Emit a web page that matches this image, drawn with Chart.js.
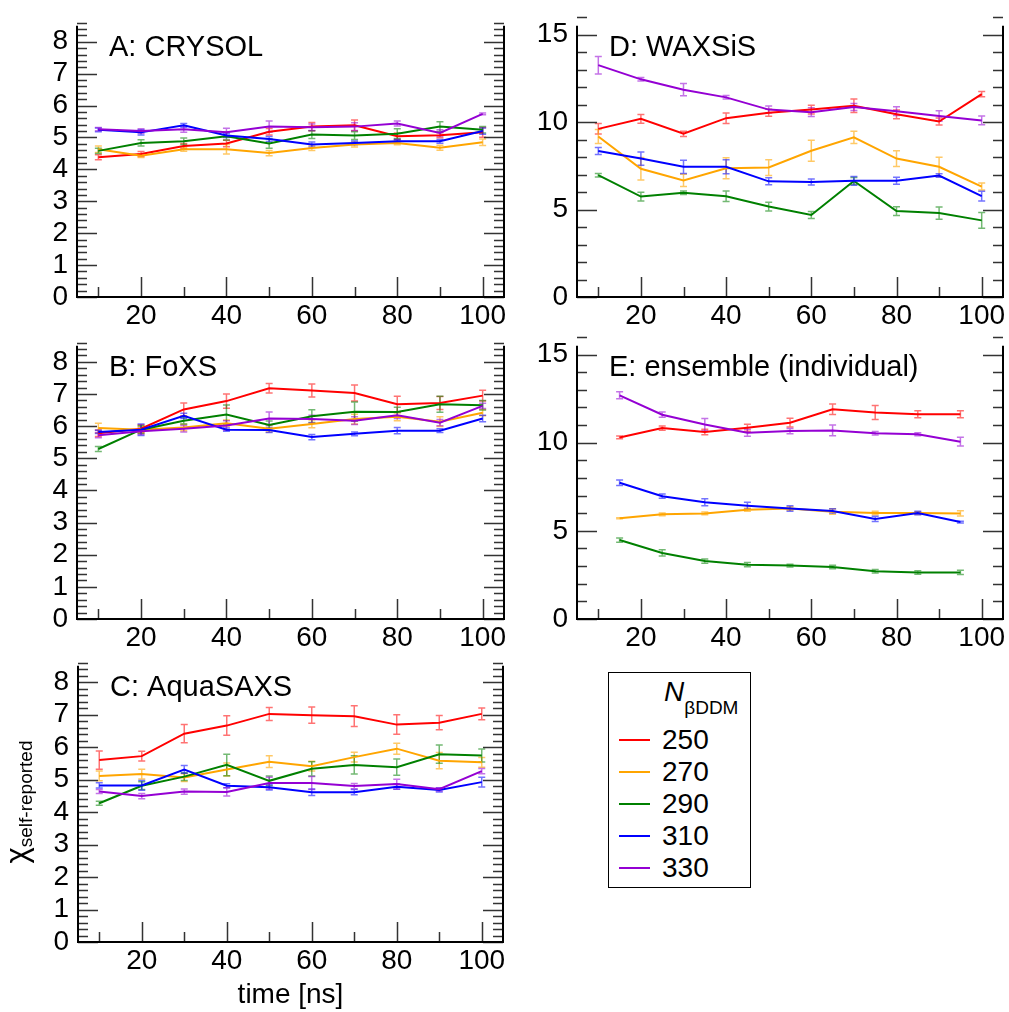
<!DOCTYPE html>
<html lang="en">
<head>
    <meta charset="UTF-8">
    <title>Chi self-reported vs time</title>
    <script src="https://cdn.jsdelivr.net/npm/chart.js"></script>
    <style>
        body { margin: 0; background: #fff; font-family: "Liberation Sans", Arial, sans-serif; }
        #wrap { position: relative; width: 1009px; height: 1012px; overflow: hidden; }
        canvas { position: absolute; }
        #ylabel {
            position: absolute; width: 200px; height: 40px; line-height: 40px;
            left: -83px; top: 782px; text-align: center; white-space: nowrap;
            transform: rotate(-90deg); color: #000;
        }
        #ylabel .chi { font-size: 31px; }
        #ylabel .sub { font-size: 19px; vertical-align: -5px; }
        #legend {
            position: absolute; left: 608px; top: 672px; width: 141px; height: 214px;
            border: 1.5px solid #000; color: #000;
        }
        #legend .ltitle { position: absolute; left: 55px; top: 5px; font-size: 28px; line-height: 28px; white-space: nowrap; }
        #legend .ltitle i { font-style: italic; }
        #legend .ltitle span { font-size: 19px; vertical-align: -13px; }
        #legend .items { position: absolute; left: 0; top: 51px; }
        #legend .item { display: flex; align-items: center; height: 32px; font-size: 28px; }
        #legend .swatch { display: inline-block; width: 31px; height: 2px; margin-left: 10px; margin-right: 12px; }
    </style>
</head>
<body>
<div id="wrap">
    <canvas id="chartA" width="510" height="340" style="left:0;top:0"></canvas>
    <canvas id="chartB" width="510" height="340" style="left:0;top:320px"></canvas>
    <canvas id="chartC" width="510" height="372" style="left:0;top:640px"></canvas>
    <canvas id="chartD" width="499" height="340" style="left:510px;top:0"></canvas>
    <canvas id="chartE" width="499" height="340" style="left:510px;top:320px"></canvas>
    <div id="ylabel"><span class="chi">χ</span><span class="sub">self-reported</span></div>
    <div id="legend">
        <div class="ltitle"><i>N</i><span>βDDM</span></div>
        <div class="items" id="legend-items"></div>
    </div>
</div>

<script>
    // time axis (ns)
    const times = [10, 20, 30, 40, 50, 60, 70, 80, 90, 100];
    const ensembleTimes = [15, 25, 35, 45, 55, 65, 75, 85, 95];
    const xTickLabels = [20, 40, 60, 80, 100];
    const smallYTicks = [0, 1, 2, 3, 4, 5, 6, 7, 8];
    const largeYTicks = [0, 5, 10, 15];

    // N_betaDDM series
    const nLabels = ['250', '270', '290', '310', '330'];
    const seriesColors = ['#ff0000', '#ffa500', '#008000', '#0000ff', '#9400d3'];
    const errorColors = ['rgba(255,0,0,0.55)', 'rgba(255,165,0,0.6)', 'rgba(0,128,0,0.55)', 'rgba(0,0,255,0.55)', 'rgba(148,0,211,0.55)'];

    // A: CRYSOL
    const crysolValues = [
        [4.38, 4.48, 4.73, 4.81, 5.18, 5.34, 5.38, 5.04, 5.07, 5.16],
        [4.63, 4.43, 4.63, 4.63, 4.51, 4.67, 4.78, 4.83, 4.68, 4.85],
        [4.58, 4.83, 4.88, 5.04, 4.81, 5.09, 5.06, 5.12, 5.34, 5.24],
        [5.24, 5.16, 5.38, 5.06, 4.95, 4.78, 4.83, 4.88, 4.88, 5.20],
        [5.26, 5.20, 5.26, 5.16, 5.34, 5.32, 5.34, 5.44, 5.14, 5.74]
    ];
    const crysolErrors = [
        [0.08, 0.08, 0.08, 0.10, 0.10, 0.13, 0.17, 0.10, 0.08, 0.15],
        [0.10, 0.06, 0.06, 0.15, 0.08, 0.08, 0.08, 0.06, 0.08, 0.10],
        [0.08, 0.10, 0.10, 0.12, 0.15, 0.12, 0.12, 0.15, 0.15, 0.10],
        [0.06, 0.08, 0.06, 0.06, 0.08, 0.08, 0.06, 0.06, 0.06, 0.10],
        [0.05, 0.07, 0.10, 0.13, 0.18, 0.10, 0.12, 0.08, 0.10, 0.03]
    ];

    // B: FoXS
    const foxsValues = [
        [5.78, 5.92, 6.52, 6.78, 7.18, 7.11, 7.03, 6.68, 6.72, 6.95],
        [5.94, 5.89, 5.96, 6.09, 5.92, 6.07, 6.22, 6.29, 6.14, 6.42],
        [5.29, 5.89, 6.17, 6.36, 6.04, 6.31, 6.45, 6.44, 6.68, 6.65],
        [5.82, 5.89, 6.32, 5.89, 5.88, 5.66, 5.76, 5.86, 5.86, 6.24],
        [5.72, 5.84, 5.92, 6.02, 6.24, 6.22, 6.17, 6.34, 6.11, 6.63]
    ];
    const foxsErrors = [
        [0.10, 0.12, 0.20, 0.22, 0.15, 0.20, 0.25, 0.25, 0.20, 0.17],
        [0.15, 0.10, 0.10, 0.10, 0.10, 0.12, 0.15, 0.12, 0.15, 0.10],
        [0.08, 0.12, 0.10, 0.30, 0.12, 0.20, 0.30, 0.15, 0.25, 0.15],
        [0.05, 0.18, 0.08, 0.05, 0.08, 0.08, 0.06, 0.10, 0.06, 0.10],
        [0.08, 0.10, 0.10, 0.15, 0.20, 0.12, 0.12, 0.10, 0.10, 0.08]
    ];

    // C: AquaSAXS
    const aquasaxsValues = [
        [5.60, 5.72, 6.41, 6.66, 7.02, 6.98, 6.95, 6.69, 6.75, 7.02],
        [5.11, 5.17, 5.06, 5.31, 5.55, 5.41, 5.69, 5.95, 5.58, 5.53],
        [4.27, 4.81, 5.09, 5.45, 4.96, 5.33, 5.45, 5.38, 5.78, 5.74],
        [4.82, 4.82, 5.31, 4.81, 4.76, 4.61, 4.61, 4.78, 4.68, 4.92],
        [4.63, 4.49, 4.63, 4.62, 4.89, 4.89, 4.80, 4.86, 4.70, 5.26]
    ];
    const aquasaxsErrors = [
        [0.28, 0.15, 0.28, 0.30, 0.20, 0.25, 0.32, 0.30, 0.22, 0.18],
        [0.15, 0.15, 0.12, 0.20, 0.18, 0.15, 0.15, 0.17, 0.25, 0.15],
        [0.06, 0.12, 0.12, 0.33, 0.15, 0.22, 0.28, 0.25, 0.28, 0.20],
        [0.08, 0.15, 0.12, 0.06, 0.08, 0.10, 0.08, 0.08, 0.06, 0.15],
        [0.06, 0.08, 0.08, 0.13, 0.18, 0.20, 0.08, 0.15, 0.05, 0.08]
    ];

    // D: WAXSiS
    const waxsisValues = [
        [9.61, 10.18, 9.33, 10.22, 10.53, 10.71, 10.93, 10.44, 10.03, 11.60],
        [9.17, 7.33, 6.66, 7.36, 7.40, 8.36, 9.13, 7.91, 7.44, 6.31],
        [6.96, 5.74, 5.96, 5.76, 5.17, 4.69, 6.63, 4.91, 4.80, 4.38],
        [8.34, 7.91, 7.44, 7.44, 6.61, 6.57, 6.64, 6.64, 6.94, 5.76],
        [13.25, 12.44, 11.85, 11.41, 10.71, 10.56, 10.86, 10.62, 10.34, 10.09]
    ];
    const waxsisErrors = [
        [0.30, 0.25, 0.15, 0.30, 0.20, 0.25, 0.38, 0.25, 0.20, 0.15],
        [0.40, 0.65, 0.35, 0.60, 0.45, 0.60, 0.35, 0.45, 0.55, 0.20],
        [0.10, 0.25, 0.10, 0.30, 0.25, 0.20, 0.20, 0.25, 0.35, 0.45],
        [0.20, 0.38, 0.38, 0.40, 0.20, 0.17, 0.25, 0.20, 0.10, 0.28],
        [0.50, 0.10, 0.35, 0.10, 0.20, 0.25, 0.20, 0.25, 0.30, 0.25]
    ];

    // E: ensemble (individual)
    const ensembleValues = [
        [10.30, 10.83, 10.61, 10.85, 11.14, 11.90, 11.72, 11.62, 11.62],
        [5.72, 5.94, 5.99, 6.20, 6.27, 6.09, 6.01, 6.01, 5.99],
        [4.48, 3.75, 3.29, 3.08, 3.03, 2.95, 2.71, 2.64, 2.64],
        [7.73, 6.97, 6.62, 6.42, 6.27, 6.13, 5.68, 6.01, 5.50],
        [12.69, 11.59, 11.03, 10.57, 10.66, 10.70, 10.54, 10.48, 10.06]
    ];
    const ensembleErrors = [
        [0.08, 0.12, 0.15, 0.20, 0.25, 0.30, 0.40, 0.20, 0.20],
        [0.03, 0.08, 0.08, 0.08, 0.10, 0.15, 0.10, 0.08, 0.15],
        [0.12, 0.18, 0.12, 0.12, 0.08, 0.10, 0.10, 0.10, 0.12],
        [0.15, 0.12, 0.20, 0.20, 0.15, 0.12, 0.15, 0.10, 0.05],
        [0.20, 0.15, 0.35, 0.20, 0.15, 0.30, 0.10, 0.08, 0.25]
    ];

    const fontFamily = '"Liberation Sans", Arial, sans-serif';
    const tickFont = { family: fontFamily, size: 28 };

    // error bars, inward ticks, frame and panel label
    const framePlugin = {
        id: 'frame',
        beforeDatasetsDraw(chart) {
            const { ctx, scales: { x, y } } = chart;
            chart.data.datasets.forEach(ds => {
                ctx.save();
                ctx.strokeStyle = ds.errorColor;
                ctx.lineWidth = 1.5;
                ds.data.forEach((p, i) => {
                    const e = ds.errors[i];
                    const px = x.getPixelForValue(p.x);
                    const top = y.getPixelForValue(p.y + e);
                    const bot = y.getPixelForValue(p.y - e);
                    ctx.beginPath();
                    ctx.moveTo(px, top); ctx.lineTo(px, bot);
                    ctx.moveTo(px - 3.5, top); ctx.lineTo(px + 3.5, top);
                    ctx.moveTo(px - 3.5, bot); ctx.lineTo(px + 3.5, bot);
                    ctx.stroke();
                });
                ctx.restore();
            });
        },
        afterDraw(chart, args, opts) {
            const { ctx, chartArea: a, scales: { x, y } } = chart;
            ctx.save();
            ctx.strokeStyle = '#333';
            ctx.lineWidth = 1.5;
            ctx.beginPath();
            const nY = Math.round((y.max - y.min) / opts.yMinor);
            for (let k = 0; k <= nY; k++) {
                const v = y.min + k * opts.yMinor;
                const r = v / opts.yMajor;
                const len = Math.abs(r - Math.round(r)) < 1e-6 ? 20 : 10;
                const py = Math.round(y.getPixelForValue(v)) + 0.5;
                ctx.moveTo(a.left, py); ctx.lineTo(a.left + len, py);
                ctx.moveTo(a.right, py); ctx.lineTo(a.right - len, py);
            }
            for (let v = 10; v <= 100; v += 10) {
                const len = v % 20 === 0 ? 20 : 10;
                const px = Math.round(x.getPixelForValue(v)) + 0.5;
                ctx.moveTo(px, a.bottom); ctx.lineTo(px, a.bottom - len);
            }
            ctx.stroke();

            ctx.strokeStyle = '#000';
            ctx.lineWidth = 2;
            ctx.beginPath();
            ctx.moveTo(a.left, a.top); ctx.lineTo(a.left, a.bottom);
            ctx.lineTo(a.right, a.bottom); ctx.lineTo(a.right, a.top);
            ctx.stroke();

            ctx.fillStyle = '#000';
            ctx.font = '29px ' + fontFamily;
            ctx.textBaseline = 'alphabetic';
            ctx.fillText(opts.label, a.left + 32, a.top + 30.5);
            ctx.restore();
        }
    };

    function makePanel(canvasId, label, xs, values, errors, yMax, yTicks, yMinor, yMajor, box, xTitle) {
        const datasets = values.map((vals, k) => ({
            label: nLabels[k],
            data: xs.map((t, i) => ({ x: t, y: vals[i] })),
            errors: errors[k],
            borderColor: seriesColors[k],
            errorColor: errorColors[k],
            borderWidth: 2,
            pointRadius: 0,
            tension: 0,
            fill: false,
            order: nLabels.length - k
        }));

        new Chart(document.getElementById(canvasId), {
            type: 'line',
            data: { datasets },
            options: {
                responsive: false,
                animation: false,
                devicePixelRatio: 1,
                layout: { padding: { top: box.top, right: box.right, left: 0, bottom: 0 } },
                plugins: {
                    legend: { display: false },
                    tooltip: { enabled: false },
                    frame: { label, yMinor, yMajor }
                },
                scales: {
                    x: {
                        type: 'linear', min: 5, max: 105,
                        grid: { display: false, drawTicks: false, tickLength: 0 },
                        border: { display: false },
                        ticks: { font: tickFont, color: '#000', padding: 2, maxRotation: 0, autoSkip: false },
                        afterBuildTicks: s => { s.ticks = xTickLabels.map(v => ({ value: v })); },
                        afterFit: s => { s.height = box.xh; },
                        title: xTitle
                            ? { display: true, text: xTitle, font: tickFont, color: '#000', padding: { top: 0, bottom: 0 } }
                            : { display: false }
                    },
                    y: {
                        type: 'linear', min: 0, max: yMax,
                        grid: { display: false, drawTicks: false, tickLength: 0 },
                        border: { display: false },
                        ticks: { font: tickFont, color: '#000', padding: 9, autoSkip: false },
                        afterBuildTicks: s => { s.ticks = yTicks.map(v => ({ value: v })); },
                        afterFit: s => { s.width = box.yw; }
                    }
                }
            },
            plugins: [framePlugin]
        });
    }

    makePanel('chartA', 'A: CRYSOL', times, crysolValues, crysolErrors, 8.5, smallYTicks, 0.2, 1,
        { top: 16, right: 6, yw: 77, xh: 43 });
    makePanel('chartB', 'B: FoXS', times, foxsValues, foxsErrors, 8.5, smallYTicks, 0.2, 1,
        { top: 20, right: 6, yw: 77, xh: 41 });
    makePanel('chartC', 'C: AquaSAXS', times, aquasaxsValues, aquasaxsErrors, 8.5, smallYTicks, 0.2, 1,
        { top: 23, right: 7, yw: 78, xh: 70 }, 'time [ns]');
    makePanel('chartD', 'D: WAXSiS', times, waxsisValues, waxsisErrors, 15.5, largeYTicks, 1, 5,
        { top: 16, right: 6, yw: 67, xh: 43 });
    makePanel('chartE', 'E: ensemble (individual)', ensembleTimes, ensembleValues, ensembleErrors, 15.5, largeYTicks, 1, 5,
        { top: 19, right: 6, yw: 67, xh: 41 });

    // legend entries
    document.getElementById('legend-items').innerHTML = nLabels.map((n, k) =>
        `<div class="item"><span class="swatch" style="background:${seriesColors[k]}"></span>${n}</div>`
    ).join('');
</script>
</body>
</html>
